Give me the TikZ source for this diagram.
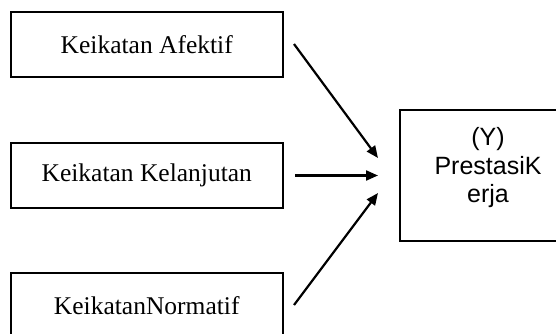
\documentclass[tikz,border=0pt]{standalone}
\usepackage{fontspec}
\setmainfont{Liberation Serif}
\newfontfamily\arialfont{Liberation Sans}
\usetikzlibrary{arrows.meta}
\begin{document}
\begin{tikzpicture}[x=1pt,y=-1pt,
  box/.style={draw,line width=2pt,minimum width=272pt,minimum height=65pt,inner sep=0pt,
    font=\fontsize{25.5}{30}\selectfont},
  ybox/.style={draw,line width=2pt,minimum width=176pt,minimum height=131pt,inner sep=0pt},
  conn/.style={line width=2.2pt,-{Triangle[length=12pt,width=10pt]}}]
\useasboundingbox (0,0) rectangle (556,334);
\clip (0,0) rectangle (556,334);
\fill[white] (0,0) rectangle (556,334);
\node[box] (a) at (146.75,44.5) {Keikatan Afektif};
\node[box] (b) at (146.75,175.5) {Keikatan Kelanjutan};
\node[box] (c) at (146.75,305.5) {KeikatanNormatif};
\node[ybox] (y) at (488,175.5) {};
\node[align=center,font=\arialfont\fontsize{25}{28.5}\selectfont] (yt) at (488,168) {(Y)\\PrestasiK\\erja};
\coordinate (sa) at (294,44);
\coordinate (sb) at (295,175.5);
\coordinate (sc) at (294,305);
\coordinate (ea) at (378,158);
\coordinate (eb) at (378,175.5);
\coordinate (ec) at (378,193);
\draw[conn] (sa) -- (ea);
\draw[conn] (sb) -- (eb);
\draw[conn] (sc) -- (ec);
\end{tikzpicture}
\end{document}
